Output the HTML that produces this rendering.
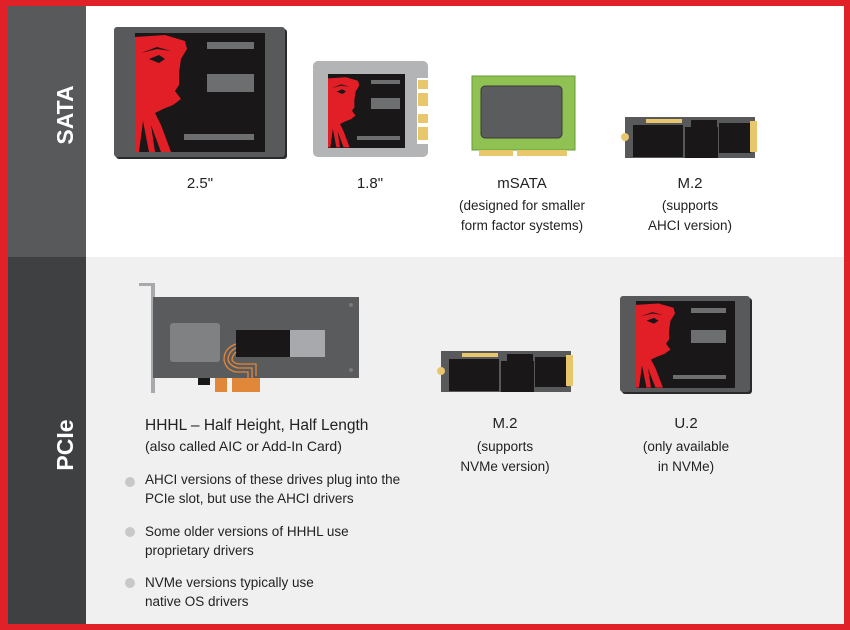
<!DOCTYPE html>
<html><head><meta charset="utf-8"><style>
html,body{margin:0;padding:0;width:850px;height:630px;overflow:hidden;background:#e02127}
svg{display:block}
text{font-family:"Liberation Sans",sans-serif;fill:#222}
</style></head><body>
<svg width="850" height="630" viewBox="0 0 850 630" xmlns="http://www.w3.org/2000/svg">
<defs>
<g id="face">
<!-- face within box 0..60 x 0..119 -->
<rect x="0" y="0" width="60" height="119" fill="#1a1718"/>
<polygon points="0,4 30,2 50,8 52,16 46,26 44,40 44,52 40,58 46,66 38,72 28,76 20,80 26,92 36,119 0,119" fill="#e21e26"/>
<polygon points="14,26 24,22 30,26 24,30" fill="#1a1718"/>
<polygon points="6,20 22,14 36,18 22,16" fill="#1a1718"/>
<polygon points="8,88 14,119 4,119" fill="#1a1718"/>
<polygon points="16,92 26,119 20,119" fill="#1a1718"/>
</g>
</defs>
<rect x="8" y="6" width="836" height="618" fill="#fff"/>
<rect x="86" y="257" width="758" height="367" fill="#f0f0f0"/>
<rect x="8" y="6" width="78" height="251" fill="#58595b"/>
<rect x="8" y="257" width="78" height="367" fill="#3f4041"/>
<text x="0" y="0" transform="translate(73,115) rotate(-90)" text-anchor="middle" font-size="23" font-weight="bold" style="fill:#fff">SATA</text>
<text x="0" y="0" transform="translate(73,445) rotate(-90)" text-anchor="middle" font-size="23" font-weight="bold" style="fill:#fff">PCIe</text>

<!-- 2.5 -->
<rect x="116" y="29" width="171" height="130" rx="3" fill="#2a2a2a"/>
<rect x="114" y="27" width="171" height="130" rx="3" fill="#58595b"/>
<rect x="135" y="33" width="130" height="119" fill="#1a1718"/>
<use href="#face" transform="translate(135,33)"/>
<rect x="207" y="42" width="47" height="7" fill="#6d6e70"/>
<rect x="207" y="74" width="47" height="18" fill="#6d6e70"/>
<rect x="184" y="134" width="70" height="6" fill="#6d6e70"/>

<!-- 1.8 -->
<rect x="313" y="61" width="115" height="96" rx="5" fill="#b3b4b6"/>
<rect x="417" y="78" width="11" height="66" fill="#fff"/>
<rect x="418" y="80" width="10" height="9" fill="#e8c66c"/><rect x="418" y="93" width="10" height="13" fill="#e8c66c"/><rect x="418" y="114" width="10" height="9" fill="#e8c66c"/><rect x="418" y="127" width="10" height="13" fill="#e8c66c"/>
<rect x="328" y="74" width="77" height="74" fill="#1a1718"/>
<use href="#face" transform="translate(328,76) scale(0.6,0.6)"/>
<rect x="371" y="80" width="29" height="4" fill="#6d6e70"/>
<rect x="371" y="98" width="29" height="11" fill="#6d6e70"/>
<rect x="357" y="136" width="43" height="4" fill="#6d6e70"/>

<!-- mSATA -->
<rect x="472" y="76" width="103" height="74" fill="#8fc253" stroke="#6a9a3a" stroke-width="1"/>
<rect x="481" y="86" width="81" height="52" rx="4" fill="#5b5c5e" stroke="#3a3a3a"/>
<rect x="479" y="150" width="34" height="6" fill="#e8c66c"/><rect x="517" y="150" width="50" height="6" fill="#e8c66c"/>

<!-- M.2 top -->
<g id="m2">
<rect x="625" y="117" width="130" height="41" fill="#58595b"/>
<rect x="633" y="125" width="50" height="32" fill="#1a1718"/>
<rect x="685" y="127" width="33" height="31" fill="#1a1718"/>
<rect x="691" y="120" width="26" height="13" fill="#1a1718"/>
<rect x="719" y="123" width="32" height="30" fill="#1a1718"/>
<rect x="646" y="119" width="36" height="4" fill="#e8c66c"/>
<rect x="750" y="121" width="7" height="31" fill="#e8c66c"/>
<circle cx="625" cy="137" r="4" fill="#e8c66c"/>
</g>

<text x="200" y="188" text-anchor="middle" font-size="15">2.5"</text>
<text x="370" y="188" text-anchor="middle" font-size="15">1.8"</text>
<text x="522" y="188" text-anchor="middle" font-size="15">mSATA</text>
<text x="522" y="210" text-anchor="middle" font-size="13.5">(designed for smaller</text>
<text x="522" y="230" text-anchor="middle" font-size="13.5">form factor systems)</text>
<text x="690" y="188" text-anchor="middle" font-size="15">M.2</text>
<text x="690" y="210" text-anchor="middle" font-size="13.5">(supports</text>
<text x="690" y="230" text-anchor="middle" font-size="13.5">AHCI version)</text>

<!-- HHHL -->
<rect x="139" y="283" width="14" height="3" fill="#a7a9ac"/>
<rect x="151" y="283" width="4" height="110" fill="#a7a9ac"/>
<rect x="155" y="310" width="7" height="56" fill="#c0c1c3"/>
<rect x="153" y="297" width="206" height="81" fill="#5a5b5d"/>
<rect x="170" y="323" width="50" height="39" rx="3" fill="#808183"/>
<rect x="236" y="330" width="54" height="27" fill="#1a1718"/>
<rect x="290" y="330" width="35" height="27" fill="#a7a9ac"/>
<path d="M236,344 q-12,4 -12,16 q2,10 12,12 h12 v8 M236,348 q-8,4 -8,12 q2,6 10,8 h14 v10 M236,352 q-4,4 -4,8 q2,4 8,4 h16 v12" fill="none" stroke="#e0873a" stroke-width="1.3"/>
<rect x="198" y="378" width="12" height="7" fill="#1a1718"/>
<rect x="215" y="378" width="12" height="14" fill="#e0873a"/>
<rect x="232" y="378" width="28" height="14" fill="#e0873a"/>
<circle cx="351" cy="305" r="2" fill="#7a7b7d"/><circle cx="351" cy="370" r="2" fill="#7a7b7d"/>

<use href="#m2" transform="translate(-184,234)"/>

<!-- U.2 -->
<rect x="622" y="298" width="130" height="96" rx="3" fill="#2a2a2a"/>
<rect x="620" y="296" width="130" height="96" rx="3" fill="#58595b"/>
<rect x="636" y="301" width="99" height="87" fill="#1a1718"/>
<use href="#face" transform="translate(636,302) scale(0.75,0.72)"/>
<rect x="691" y="308" width="35" height="5" fill="#6d6e70"/>
<rect x="691" y="330" width="35" height="13" fill="#6d6e70"/>
<rect x="673" y="375" width="53" height="4" fill="#6d6e70"/>

<text x="145" y="430" font-size="15.5">HHHL – Half Height, Half Length</text>
<text x="145" y="451" font-size="14">(also called AIC or Add-In Card)</text>
<circle cx="130" cy="482" r="5" fill="#c7c8ca"/>
<circle cx="130" cy="532" r="5" fill="#c7c8ca"/>
<circle cx="130" cy="583" r="5" fill="#c7c8ca"/>
<g font-size="13.5">
<text x="145" y="484">AHCI versions of these drives plug into the</text>
<text x="145" y="503">PCIe slot, but use the AHCI drivers</text>
<text x="145" y="536">Some older versions of HHHL use</text>
<text x="145" y="555">proprietary drivers</text>
<text x="145" y="587">NVMe versions typically use</text>
<text x="145" y="606">native OS drivers</text>
</g>
<text x="505" y="428" text-anchor="middle" font-size="15">M.2</text>
<text x="505" y="451" text-anchor="middle" font-size="13.5">(supports</text>
<text x="505" y="471" text-anchor="middle" font-size="13.5">NVMe version)</text>
<text x="686" y="428" text-anchor="middle" font-size="15">U.2</text>
<text x="686" y="451" text-anchor="middle" font-size="13.5">(only available</text>
<text x="686" y="471" text-anchor="middle" font-size="13.5">in NVMe)</text>
</svg>
</body></html>
